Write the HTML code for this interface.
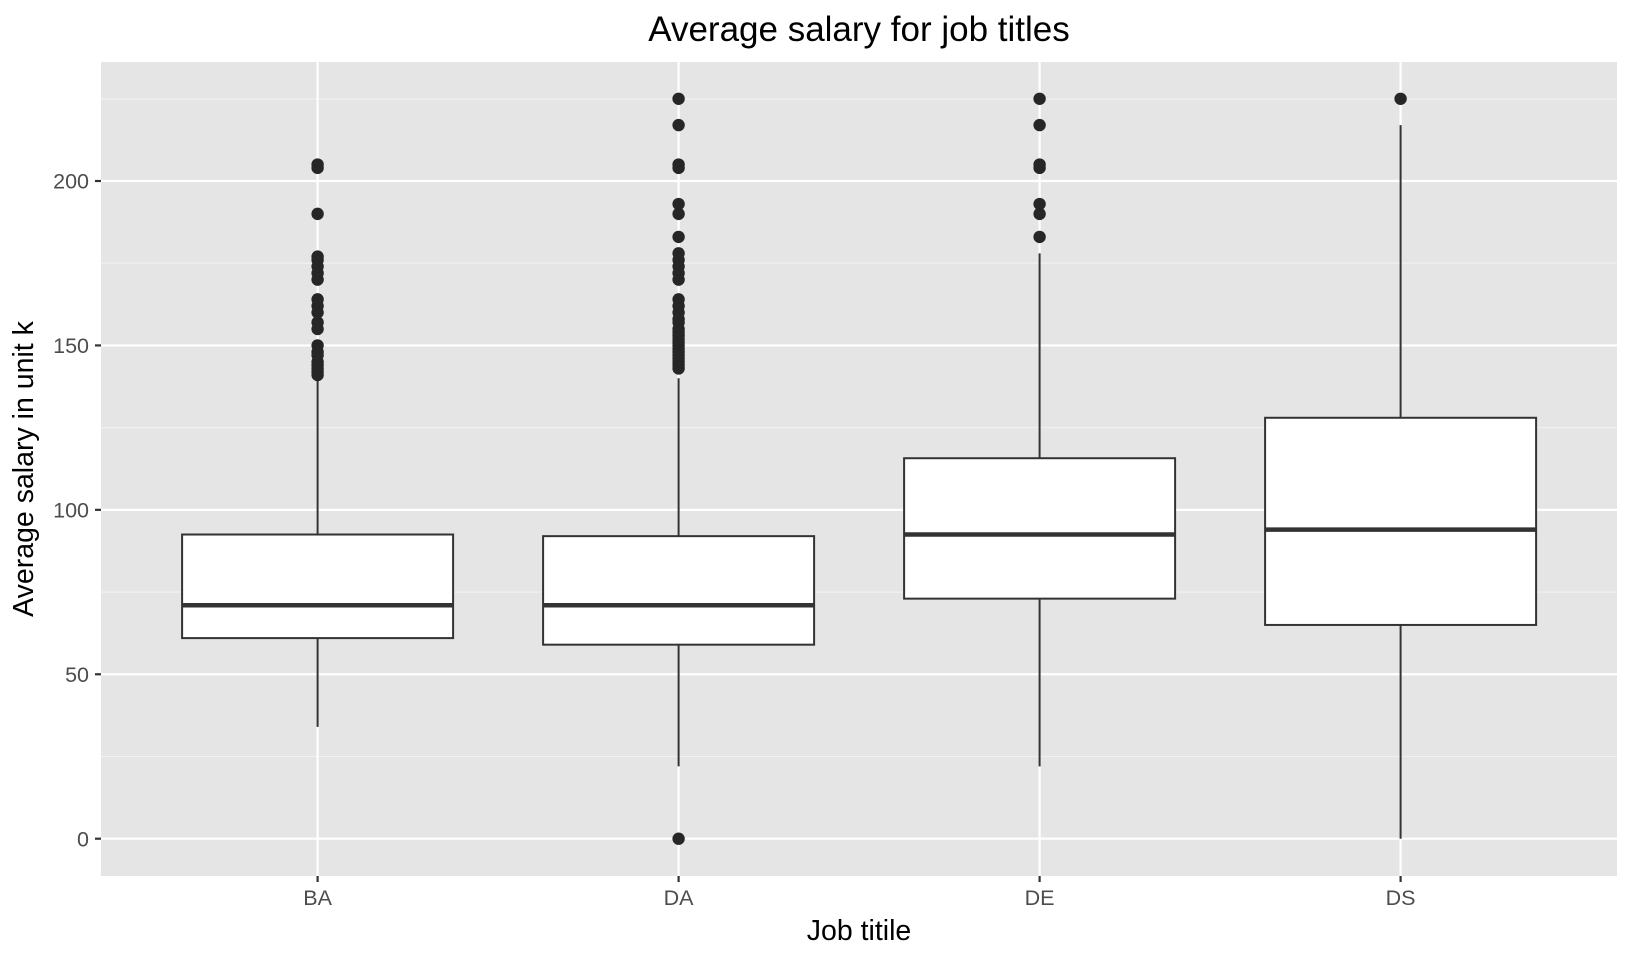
<!DOCTYPE html>
<html><head><meta charset="utf-8"><style>
html,body{margin:0;padding:0;background:#fff}
svg{display:block}
text{font-family:"Liberation Sans",Arial,sans-serif}
</style></head><body>
<svg id="s" width="1632" height="960" xmlns="http://www.w3.org/2000/svg">
<rect x="101" y="62" width="1516" height="814" fill="#e5e5e5"/>
<g id="grid"></g>
<g id="boxes"></g>
<text x="859" y="41" font-size="35" text-anchor="middle" fill="#000">Average salary for job titles</text>
<g font-size="21.5" fill="#4d4d4d" text-anchor="end">
<text x="89" y="846.3">0</text>
<text x="89" y="681.9">50</text>
<text x="89" y="517.5">100</text>
<text x="89" y="353">150</text>
<text x="89" y="188.6">200</text>
</g>
<g font-size="21.5" fill="#4d4d4d" text-anchor="middle">
<text x="317.6" y="905">BA</text>
<text x="678.6" y="905">DA</text>
<text x="1039.6" y="905">DE</text>
<text x="1400.6" y="905">DS</text>
</g>
<text x="859" y="940" font-size="28.5" text-anchor="middle" fill="#000">Job titile</text>
<text transform="translate(33,469) rotate(-90)" font-size="28.5" text-anchor="middle" fill="#000">Average salary in unit k</text>
</svg>
<script>
var NS="http://www.w3.org/2000/svg";
function Y(v){return 838.7-3.2885*v;}
function el(p,t,a){var e=document.createElementNS(NS,t);for(var k in a)e.setAttribute(k,a[k]);p.appendChild(e);return e;}
var g=document.getElementById("grid"),b=document.getElementById("boxes"),s=document.getElementById("s");
[25,75,125,175,225].forEach(function(v){el(g,"line",{x1:101,x2:1617,y1:Y(v),y2:Y(v),stroke:"#f2f2f2","stroke-width":1.1});});
[0,50,100,150,200].forEach(function(v){el(g,"line",{x1:101,x2:1617,y1:Y(v),y2:Y(v),stroke:"#fff","stroke-width":2.2});
 el(s,"line",{x1:95,x2:101,y1:Y(v),y2:Y(v),stroke:"#333","stroke-width":2.2});});
var xs=[317.6,678.6,1039.6,1400.6];
xs.forEach(function(x){el(g,"line",{x1:x,x2:x,y1:62,y2:876,stroke:"#fff","stroke-width":2.2});
 el(s,"line",{x1:x,x2:x,y1:876,y2:882,stroke:"#333","stroke-width":2.2});});
var data=[
 [34,61,71,92.5,140,[141,142,143,144,145,147,148,150,155,157,160,162,164,170,172,174,176,177,190,204,205]],
 [22,59,71,92,140,[0,143,144,145,146,147,148,149,150,151,152,153,154,155,157,158,160,162,164,170,172,174,176,178,183,190,193,204,205,217,225]],
 [22,73,92.5,115.7,178,[183,190,193,204,205,217,225]],
 [0,65,94,128,217,[225]]
];
data.forEach(function(d,i){var x=xs[i],w=135.5;
 el(b,"line",{x1:x,x2:x,y1:Y(d[0]),y2:Y(d[1]),stroke:"#333","stroke-width":2});
 el(b,"line",{x1:x,x2:x,y1:Y(d[3]),y2:Y(d[4]),stroke:"#333","stroke-width":2});
 el(b,"rect",{x:x-w,y:Y(d[3]),width:2*w,height:Y(d[1])-Y(d[3]),fill:"#fff",stroke:"#333","stroke-width":2});
 el(b,"line",{x1:x-w,x2:x+w,y1:Y(d[2]),y2:Y(d[2]),stroke:"#333","stroke-width":4.5});
 d[5].forEach(function(v){el(b,"circle",{cx:x,cy:Y(v),r:6.2,fill:"#262626"});});
});
</script>
</body></html>
